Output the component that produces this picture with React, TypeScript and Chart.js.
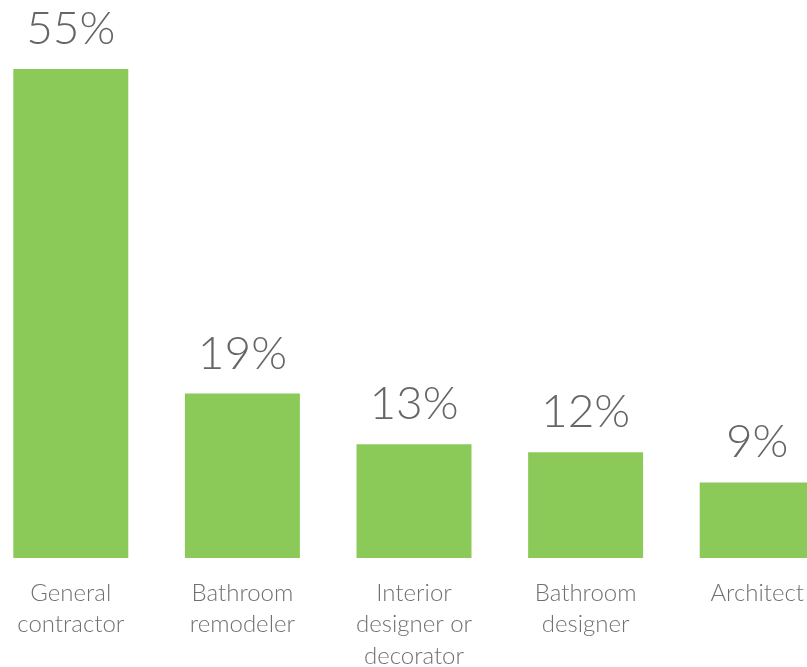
import React, { useEffect, useRef } from "react";
import { Chart, registerables } from "chart.js";

Chart.register(...registerables);

const categories: string[][] = [
  ["General", "contractor"],
  ["Bathroom", "remodeler"],
  ["Interior", "designer or", "decorator"],
  ["Bathroom", "designer"],
  ["Architect"],
];
const shares: number[] = [55, 18.5, 12.8, 11.9, 8.5];
const shareLabels: string[] = ["55%", "19%", "13%", "12%", "9%"];

const FONT = "Lato, 'Open Sans', sans-serif";

const valueLabelPlugin = {
  id: "valueLabels",
  afterDatasetsDraw(chart: any) {
    const ctx = chart.ctx;
    const meta = chart.getDatasetMeta(0);
    ctx.save();
    ctx.font = `300 46px ${FONT}`;
    ctx.fillStyle = "#666666";
    ctx.textAlign = "center";
    ctx.textBaseline = "alphabetic";
    meta.data.forEach((bar: any, i: number) => {
      ctx.fillText(shareLabels[i], bar.x, bar.y - 25);
    });
    ctx.restore();
  },
};

export default function App() {
  const ref = useRef<HTMLCanvasElement | null>(null);
  useEffect(() => {
    if (!ref.current) return;
    const chart = new Chart(ref.current, {
      type: "bar",
      data: {
        labels: categories,
        datasets: [
          {
            data: shares,
            backgroundColor: "#8BC958",
            borderWidth: 0,
            categoryPercentage: 1,
            barPercentage: 0.67,
          },
        ],
      },
      options: {
        animation: false,
        responsive: true,
        maintainAspectRatio: false,
        layout: { padding: { top: 69, left: 0, right: 0, bottom: 0 } },
        plugins: {
          legend: { display: false },
          tooltip: { enabled: false },
        },
        scales: {
          x: {
            grid: { display: false },
            border: { display: false },
            ticks: {
              color: "#707070",
              font: { family: FONT, size: 24, weight: 300 as any, lineHeight: 1.32 },
              padding: 11,
              maxRotation: 0,
              autoSkip: false,
            },
            afterFit(scale: any) {
              scale.height = 109;
            },
          },
          y: {
            display: false,
            min: 0,
            max: 55,
          },
        },
      },
      plugins: [valueLabelPlugin],
    });
    return () => chart.destroy();
  }, []);
  return (
    <div style={{ position: "fixed", left: 0, top: 0, width: 807, height: 667, overflow: "hidden", background: "#fff" }}>
      <div style={{ position: "absolute", left: -15, top: 0, width: 858, height: 667 }}>
        <canvas ref={ref} />
      </div>
    </div>
  );
}
